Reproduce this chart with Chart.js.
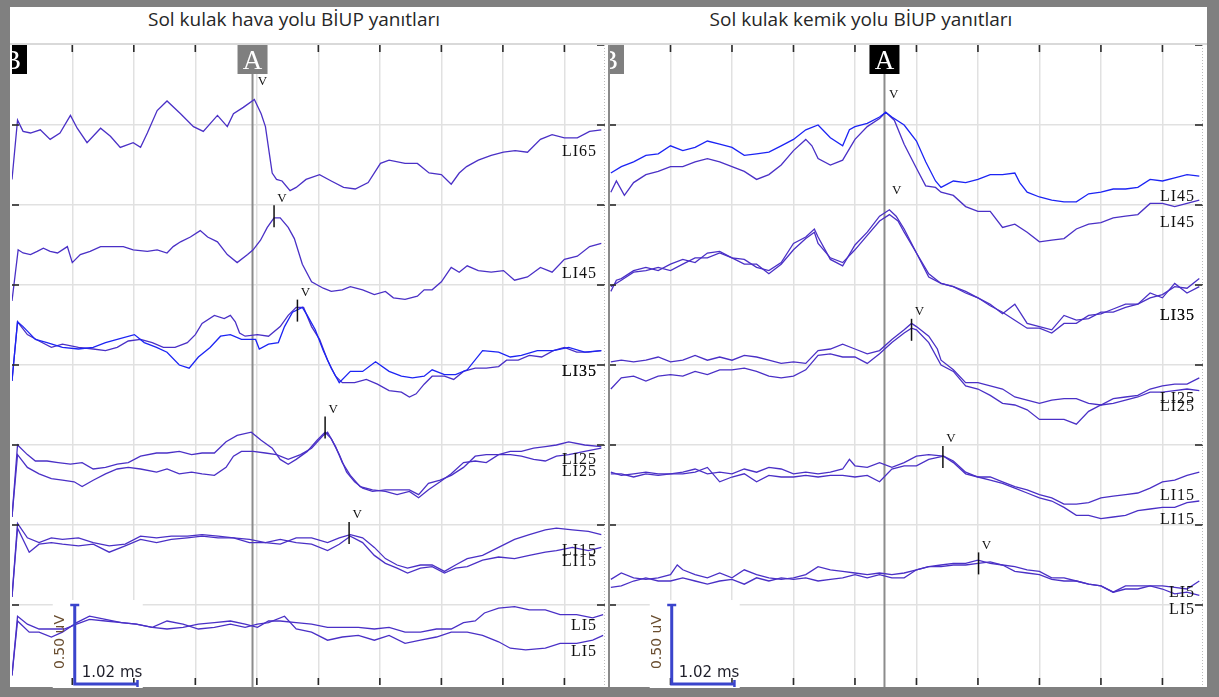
<!DOCTYPE html>
<html><head><meta charset="utf-8">
<script src="https://cdn.jsdelivr.net/npm/chart.js@4.4.1/dist/chart.umd.min.js"></script>
<style>
html,body{margin:0;padding:0;background:#808080;width:1219px;height:697px;overflow:hidden;}
#frame{position:absolute;left:10px;top:7px;width:1197px;height:680px;background:#fff;}
#titlebar{position:absolute;left:10px;top:43px;width:1197px;height:2px;background:#d9d9d9;}
.title{position:absolute;top:6px;line-height:26px;font-family:'Open Sans',sans-serif;font-size:19px;color:#262626;white-space:nowrap;transform:translateX(-50%);}
#sep{position:absolute;left:608px;top:45px;width:2px;height:642px;background:#8a8a8a;}
canvas{position:absolute;}
</style></head>
<body>
<div id="frame"></div>
<div id="titlebar"></div>
<div class="title" id="t1" style="left:294px"></div>
<div class="title" id="t2" style="left:861px"></div>
<canvas id="c1" width="598" height="643" style="left:10px;top:45px"></canvas>
<canvas id="c2" width="600" height="643" style="left:608px;top:45px"></canvas>
<div id="sep"></div>
<script>
// ---------- texts ----------
const airTitle = 'Sol kulak hava yolu BİUP yanıtları';
const boneTitle = 'Sol kulak kemik yolu BİUP yanıtları';
const barUvText = '0.50 uV';
const barMsText = '1.02 ms';

// ---------- axis grid (ms / µV) ----------
const gridMs = [1, 2, 3, 4, 5, 6, 7, 8, 9];
const gridUv = [0.5, 1.0, 1.5, 2.0, 2.5, 3.0, 3.5];
const edgeUv = [0.5, 1.0, 1.5, 2.0, 2.5, 3.0, 3.5, 4.0];

// ---------- LEFT: air conduction traces [ms, µV] ----------
const airLI65 = [[0.02,3.16],[0.11,3.53],[0.20,3.46],[0.32,3.45],[0.48,3.47],[0.64,3.41],[0.80,3.45],[0.97,3.56],[1.08,3.48],[1.24,3.39],[1.46,3.48],[1.62,3.43],[1.78,3.36],[1.99,3.39],[2.11,3.36],[2.22,3.45],[2.38,3.59],[2.54,3.65],[2.76,3.57],[2.97,3.49],[3.13,3.46],[3.36,3.56],[3.52,3.49],[3.62,3.57],[3.78,3.61],[3.96,3.66],[4.07,3.57],[4.14,3.49],[4.20,3.33],[4.25,3.20],[4.32,3.16],[4.41,3.15],[4.54,3.09],[4.64,3.11],[4.80,3.16],[5.02,3.19],[5.21,3.15],[5.41,3.11],[5.60,3.10],[5.81,3.14],[6.01,3.26],[6.15,3.28],[6.41,3.26],[6.61,3.26],[6.80,3.20],[7.00,3.19],[7.16,3.13],[7.29,3.20],[7.41,3.24],[7.60,3.28],[7.81,3.31],[8.01,3.33],[8.20,3.34],[8.40,3.33],[8.61,3.41],[8.80,3.44],[9.00,3.42],[9.21,3.42],[9.41,3.46],[9.60,3.47]];
const airLI45 = [[0.02,2.40],[0.12,2.72],[0.20,2.70],[0.32,2.69],[0.43,2.71],[0.53,2.73],[0.64,2.71],[0.76,2.70],[0.92,2.74],[1.00,2.64],[1.13,2.69],[1.29,2.71],[1.46,2.74],[1.67,2.74],[1.83,2.74],[1.99,2.72],[2.22,2.71],[2.38,2.72],[2.54,2.70],[2.64,2.74],[2.76,2.77],[2.92,2.80],[3.08,2.84],[3.20,2.80],[3.36,2.77],[3.52,2.69],[3.68,2.64],[3.85,2.69],[3.94,2.72],[4.06,2.78],[4.17,2.86],[4.28,2.92],[4.38,2.92],[4.51,2.86],[4.61,2.79],[4.74,2.63],[4.89,2.52],[5.08,2.48],[5.21,2.46],[5.39,2.47],[5.52,2.49],[5.72,2.47],[5.91,2.44],[6.09,2.46],[6.22,2.42],[6.41,2.41],[6.61,2.43],[6.72,2.47],[6.85,2.47],[7.00,2.52],[7.16,2.61],[7.29,2.58],[7.42,2.62],[7.60,2.59],[7.81,2.58],[8.01,2.59],[8.19,2.53],[8.40,2.55],[8.61,2.61],[8.80,2.58],[9.00,2.66],[9.21,2.68],[9.41,2.74],[9.60,2.76]];
const airLI35a = [[0.02,1.90],[0.11,2.27],[0.20,2.24],[0.40,2.16],[0.59,2.14],[0.84,2.11],[1.10,2.10],[1.34,2.11],[1.54,2.14],[1.73,2.16],[2.01,2.19],[2.17,2.14],[2.37,2.11],[2.54,2.08],[2.74,2.00],[2.90,1.98],[3.05,2.05],[3.24,2.11],[3.41,2.18],[3.57,2.19],[3.75,2.16],[3.98,2.16],[4.04,2.10],[4.19,2.13],[4.35,2.14],[4.45,2.24],[4.58,2.33],[4.74,2.36],[4.82,2.31],[4.95,2.22],[5.08,2.09],[5.21,1.98],[5.34,1.89],[5.52,1.96],[5.72,1.96],[5.93,2.02],[6.15,1.96],[6.35,1.93],[6.53,1.92],[6.72,1.93],[6.85,1.97],[7.05,1.94],[7.23,1.94],[7.42,1.97],[7.67,2.09],[7.93,2.08],[8.12,2.05],[8.30,2.06],[8.56,2.09],[8.82,2.09],[9.07,2.11],[9.33,2.08],[9.60,2.09]];
const airLI35b = [[0.02,1.90],[0.11,2.27],[0.27,2.19],[0.46,2.15],[0.66,2.11],[0.84,2.13],[1.10,2.11],[1.34,2.10],[1.54,2.09],[1.73,2.11],[1.91,2.15],[2.11,2.16],[2.30,2.14],[2.48,2.11],[2.67,2.11],[2.87,2.14],[3.00,2.19],[3.11,2.26],[3.31,2.31],[3.47,2.29],[3.57,2.31],[3.65,2.27],[3.72,2.20],[3.81,2.18],[4.01,2.19],[4.19,2.18],[4.38,2.24],[4.51,2.31],[4.64,2.36],[4.76,2.36],[4.89,2.24],[5.02,2.16],[5.15,2.03],[5.28,1.93],[5.39,1.89],[5.59,1.89],[5.78,1.91],[5.96,1.88],[6.15,1.84],[6.35,1.83],[6.48,1.80],[6.59,1.82],[6.72,1.88],[6.85,1.93],[7.05,1.93],[7.20,1.91],[7.36,1.96],[7.55,1.98],[7.73,1.98],[7.93,1.99],[8.06,2.03],[8.25,2.03],[8.43,2.06],[8.63,2.05],[8.82,2.09],[9.00,2.11],[9.20,2.08],[9.39,2.08],[9.60,2.09]];
const airLI25a = [[0.02,1.05],[0.11,1.50],[0.27,1.44],[0.40,1.40],[0.59,1.40],[0.77,1.39],[0.97,1.38],[1.16,1.39],[1.34,1.35],[1.54,1.36],[1.73,1.38],[1.91,1.39],[2.11,1.43],[2.37,1.45],[2.54,1.45],[2.74,1.46],[2.94,1.44],[3.11,1.45],[3.31,1.45],[3.50,1.52],[3.68,1.56],[3.91,1.58],[4.07,1.53],[4.25,1.48],[4.38,1.41],[4.51,1.38],[4.64,1.41],[4.82,1.46],[4.98,1.53],[5.11,1.58],[5.21,1.54],[5.34,1.44],[5.46,1.33],[5.59,1.27],[5.72,1.23],[5.88,1.21],[6.09,1.22],[6.28,1.22],[6.48,1.22],[6.63,1.19],[6.79,1.26],[6.98,1.28],[7.16,1.31],[7.36,1.36],[7.55,1.43],[7.73,1.44],[7.93,1.44],[8.12,1.46],[8.30,1.46],[8.50,1.48],[8.69,1.49],[8.87,1.50],[9.07,1.52],[9.33,1.50],[9.60,1.49]];
const airLI25b = [[0.02,1.05],[0.11,1.44],[0.27,1.36],[0.46,1.32],[0.66,1.29],[0.84,1.28],[1.03,1.27],[1.16,1.24],[1.34,1.28],[1.54,1.32],[1.73,1.35],[1.91,1.36],[2.11,1.35],[2.37,1.33],[2.54,1.35],[2.74,1.32],[2.94,1.33],[3.11,1.32],[3.31,1.31],[3.50,1.36],[3.62,1.43],[3.75,1.46],[3.94,1.46],[4.14,1.45],[4.32,1.44],[4.51,1.41],[4.71,1.44],[4.89,1.48],[5.08,1.56],[5.15,1.58],[5.28,1.49],[5.39,1.39],[5.52,1.31],[5.68,1.24],[5.88,1.22],[6.09,1.21],[6.28,1.19],[6.48,1.21],[6.63,1.17],[6.79,1.22],[6.98,1.27],[7.16,1.32],[7.36,1.39],[7.55,1.40],[7.73,1.39],[7.93,1.44],[8.12,1.44],[8.30,1.43],[8.50,1.41],[8.69,1.40],[8.87,1.43],[9.07,1.44],[9.33,1.46],[9.60,1.48]];
const airLI15a = [[0.02,0.55],[0.11,1.01],[0.27,0.92],[0.46,0.89],[0.66,0.92],[0.84,0.91],[1.10,0.92],[1.34,0.89],[1.60,0.87],[1.86,0.88],[2.11,0.93],[2.37,0.92],[2.61,0.93],[2.87,0.93],[3.11,0.94],[3.37,0.93],[3.62,0.92],[3.88,0.91],[4.14,0.89],[4.38,0.88],[4.64,0.92],[4.89,0.92],[5.15,0.89],[5.34,0.92],[5.52,0.94],[5.72,0.92],[5.91,0.86],[6.09,0.79],[6.28,0.75],[6.45,0.73],[6.66,0.75],[6.85,0.75],[7.05,0.71],[7.23,0.75],[7.42,0.79],[7.67,0.81],[7.93,0.86],[8.19,0.91],[8.43,0.94],[8.69,0.97],[8.87,0.98],[9.13,0.97],[9.39,0.96],[9.60,0.94]];
const airLI15b = [[0.02,0.55],[0.11,0.98],[0.30,0.83],[0.46,0.88],[0.66,0.89],[0.84,0.88],[1.10,0.87],[1.34,0.88],[1.60,0.83],[1.86,0.87],[2.11,0.91],[2.37,0.89],[2.61,0.91],[2.87,0.92],[3.11,0.93],[3.37,0.92],[3.62,0.92],[3.88,0.89],[4.14,0.89],[4.38,0.91],[4.64,0.89],[4.89,0.88],[5.15,0.84],[5.34,0.88],[5.52,0.93],[5.72,0.89],[5.91,0.81],[6.09,0.76],[6.28,0.73],[6.45,0.70],[6.66,0.73],[6.85,0.74],[7.05,0.70],[7.23,0.73],[7.42,0.74],[7.67,0.78],[7.93,0.80],[8.19,0.79],[8.43,0.81],[8.69,0.83],[8.87,0.84],[9.13,0.86],[9.39,0.84],[9.60,0.86]];
const airLI5a = [[0.02,0.06],[0.11,0.43],[0.27,0.38],[0.46,0.35],[0.66,0.35],[0.87,0.35],[1.07,0.38],[1.28,0.41],[1.54,0.40],[1.80,0.39],[2.04,0.38],[2.30,0.36],[2.54,0.35],[2.80,0.36],[3.05,0.38],[3.31,0.39],[3.57,0.40],[3.81,0.38],[4.01,0.36],[4.19,0.40],[4.38,0.40],[4.64,0.39],[4.89,0.38],[5.15,0.36],[5.39,0.36],[5.65,0.36],[5.91,0.35],[6.15,0.36],[6.41,0.33],[6.66,0.33],[6.92,0.35],[7.16,0.35],[7.36,0.39],[7.55,0.40],[7.70,0.45],[7.93,0.48],[8.19,0.49],[8.43,0.47],[8.69,0.47],[8.93,0.44],[9.20,0.44],[9.46,0.42],[9.63,0.44]];
const airLI5b = [[0.02,0.06],[0.11,0.40],[0.30,0.33],[0.46,0.33],[0.66,0.30],[0.84,0.33],[1.07,0.39],[1.28,0.43],[1.54,0.41],[1.80,0.39],[2.04,0.38],[2.30,0.36],[2.54,0.40],[2.80,0.38],[3.05,0.35],[3.31,0.36],[3.57,0.38],[3.81,0.36],[4.01,0.38],[4.19,0.39],[4.45,0.43],[4.64,0.35],[4.89,0.33],[5.15,0.28],[5.39,0.30],[5.65,0.31],[5.91,0.28],[6.15,0.31],[6.41,0.26],[6.66,0.28],[6.92,0.30],[7.16,0.33],[7.42,0.33],[7.67,0.31],[7.93,0.27],[8.12,0.23],[8.37,0.22],[8.69,0.23],[8.93,0.26],[9.20,0.26],[9.46,0.28],[9.63,0.31]];

const airTraces = [airLI65, airLI45, airLI35a, airLI35b, airLI25a, airLI25b, airLI15a, airLI15b, airLI5a, airLI5b];
const airLabels = ['LI65', 'LI45', 'LI35', 'LI35', 'LI25', 'LI25', 'LI15', 'LI15', 'LI5', 'LI5'];
const airLabelLevels = [3.33, 2.57, 1.96, 1.955, 1.41, 1.33, 0.84, 0.77, 0.37, 0.21];
const airPeakLatency = [3.96, 4.28, 4.66, 5.11, 5.50];
const airPeakAmp = [3.66, 2.93, 2.34, 1.61, 0.95];
const airCursorA = 3.93, airCursorB = 0.02;

// ---------- RIGHT: bone conduction traces [ms, µV] ----------
const boneLI45a = [[0.03,3.20],[0.20,3.24],[0.40,3.27],[0.60,3.31],[0.80,3.32],[1.00,3.37],[1.20,3.34],[1.40,3.36],[1.60,3.40],[1.80,3.38],[2.00,3.36],[2.20,3.31],[2.40,3.32],[2.60,3.33],[2.80,3.37],[3.00,3.41],[3.20,3.47],[3.40,3.50],[3.60,3.42],[3.80,3.37],[3.91,3.47],[4.00,3.49],[4.20,3.51],[4.40,3.55],[4.50,3.58],[4.60,3.55],[4.80,3.50],[5.00,3.40],[5.15,3.27],[5.31,3.15],[5.40,3.11],[5.60,3.15],[5.80,3.14],[6.00,3.16],[6.20,3.19],[6.40,3.19],[6.60,3.20],[6.68,3.14],[6.80,3.08],[7.00,3.05],[7.20,3.03],[7.40,3.02],[7.60,3.02],[7.80,3.07],[8.00,3.08],[8.20,3.10],[8.40,3.10],[8.60,3.11],[8.80,3.16],[9.00,3.15],[9.20,3.17],[9.40,3.19],[9.60,3.18]];
const boneLI45b = [[0.03,3.08],[0.12,3.15],[0.25,3.06],[0.40,3.14],[0.60,3.19],[0.80,3.21],[1.00,3.24],[1.20,3.24],[1.40,3.27],[1.60,3.29],[1.80,3.27],[2.00,3.24],[2.20,3.21],[2.40,3.16],[2.60,3.19],[2.80,3.25],[3.00,3.34],[3.20,3.41],[3.30,3.37],[3.40,3.29],[3.60,3.25],[3.80,3.28],[4.00,3.41],[4.20,3.49],[4.40,3.54],[4.50,3.58],[4.64,3.53],[4.80,3.38],[5.00,3.23],[5.15,3.12],[5.31,3.11],[5.40,3.08],[5.60,3.06],[5.80,2.99],[6.00,2.96],[6.20,2.96],[6.40,2.86],[6.60,2.88],[6.80,2.83],[7.00,2.77],[7.20,2.78],[7.40,2.79],[7.60,2.85],[7.80,2.88],[8.00,2.89],[8.20,2.92],[8.40,2.93],[8.60,2.94],[8.80,3.01],[9.00,3.01],[9.20,2.99],[9.40,3.01],[9.60,3.03]];
const boneLI35a = [[0.03,2.46],[0.12,2.53],[0.20,2.54],[0.40,2.59],[0.60,2.61],[0.80,2.59],[1.00,2.63],[1.20,2.66],[1.40,2.64],[1.60,2.70],[1.80,2.71],[2.00,2.67],[2.20,2.66],[2.40,2.61],[2.60,2.59],[2.80,2.64],[3.00,2.76],[3.20,2.80],[3.34,2.85],[3.40,2.80],[3.60,2.66],[3.80,2.62],[4.00,2.75],[4.20,2.83],[4.40,2.93],[4.56,2.97],[4.67,2.93],[4.80,2.85],[5.00,2.70],[5.20,2.57],[5.40,2.51],[5.60,2.49],[5.80,2.46],[6.00,2.42],[6.20,2.38],[6.40,2.32],[6.60,2.38],[6.80,2.26],[7.00,2.24],[7.20,2.22],[7.40,2.31],[7.60,2.28],[7.80,2.29],[8.00,2.33],[8.20,2.33],[8.40,2.36],[8.60,2.38],[8.80,2.42],[9.00,2.44],[9.20,2.49],[9.40,2.48],[9.60,2.54]];
const boneLI35b = [[0.03,2.49],[0.20,2.53],[0.40,2.58],[0.60,2.59],[0.80,2.61],[1.00,2.59],[1.20,2.63],[1.40,2.67],[1.60,2.67],[1.80,2.70],[2.00,2.67],[2.20,2.63],[2.40,2.63],[2.60,2.57],[2.80,2.63],[3.00,2.72],[3.20,2.79],[3.34,2.83],[3.40,2.76],[3.60,2.67],[3.80,2.64],[4.00,2.72],[4.20,2.81],[4.40,2.90],[4.56,2.94],[4.70,2.90],[4.80,2.83],[5.00,2.70],[5.20,2.55],[5.40,2.51],[5.60,2.49],[5.80,2.45],[6.00,2.42],[6.20,2.37],[6.40,2.33],[6.60,2.28],[6.80,2.23],[7.00,2.23],[7.20,2.20],[7.40,2.26],[7.60,2.26],[7.80,2.31],[8.00,2.32],[8.20,2.35],[8.40,2.38],[8.60,2.38],[8.80,2.45],[9.00,2.42],[9.20,2.51],[9.40,2.45],[9.60,2.49]];
const boneLI25a = [[0.03,2.02],[0.20,2.03],[0.40,2.02],[0.60,2.03],[0.80,2.05],[1.00,2.02],[1.20,2.03],[1.40,2.06],[1.60,2.03],[1.80,2.05],[2.00,2.03],[2.20,2.06],[2.40,2.05],[2.60,2.03],[2.80,2.01],[3.00,2.02],[3.20,2.01],[3.40,2.09],[3.60,2.10],[3.80,2.13],[4.00,2.10],[4.20,2.07],[4.40,2.09],[4.60,2.16],[4.80,2.22],[4.92,2.26],[5.00,2.24],[5.20,2.18],[5.34,2.10],[5.40,2.03],[5.60,1.97],[5.80,1.89],[6.00,1.89],[6.20,1.87],[6.40,1.85],[6.60,1.80],[6.80,1.78],[7.00,1.76],[7.20,1.78],[7.40,1.79],[7.60,1.79],[7.80,1.76],[8.00,1.75],[8.20,1.79],[8.40,1.80],[8.60,1.81],[8.80,1.85],[9.00,1.87],[9.20,1.88],[9.40,1.88],[9.60,1.92]];
const boneLI25b = [[0.03,1.85],[0.20,1.92],[0.40,1.93],[0.60,1.90],[0.80,1.93],[1.00,1.94],[1.20,1.93],[1.40,1.96],[1.60,1.94],[1.80,1.97],[2.00,1.97],[2.20,1.98],[2.40,1.96],[2.60,1.93],[2.80,1.92],[3.00,1.93],[3.20,1.97],[3.40,2.06],[3.60,2.07],[3.80,2.05],[4.00,2.05],[4.20,2.01],[4.40,2.07],[4.60,2.14],[4.80,2.20],[4.92,2.23],[5.00,2.22],[5.20,2.14],[5.40,2.00],[5.60,1.96],[5.80,1.87],[6.00,1.85],[6.20,1.81],[6.40,1.76],[6.60,1.75],[6.80,1.72],[7.00,1.66],[7.20,1.66],[7.40,1.66],[7.60,1.63],[7.80,1.71],[8.00,1.75],[8.20,1.76],[8.40,1.78],[8.60,1.80],[8.80,1.83],[9.00,1.83],[9.20,1.84],[9.40,1.85],[9.60,1.84]];
const boneLI15a = [[0.03,1.33],[0.20,1.31],[0.40,1.32],[0.60,1.33],[0.80,1.32],[1.00,1.32],[1.20,1.33],[1.40,1.35],[1.60,1.32],[1.80,1.33],[2.00,1.32],[2.20,1.35],[2.40,1.33],[2.60,1.36],[2.80,1.35],[3.00,1.32],[3.20,1.33],[3.40,1.32],[3.60,1.33],[3.80,1.35],[3.91,1.41],[4.00,1.37],[4.20,1.36],[4.40,1.39],[4.60,1.36],[4.80,1.39],[5.00,1.43],[5.20,1.44],[5.44,1.43],[5.60,1.40],[5.80,1.33],[6.00,1.30],[6.20,1.30],[6.40,1.27],[6.60,1.24],[6.80,1.22],[7.00,1.19],[7.20,1.17],[7.40,1.13],[7.60,1.13],[7.80,1.14],[8.00,1.17],[8.20,1.18],[8.40,1.19],[8.60,1.20],[8.80,1.23],[9.00,1.27],[9.20,1.28],[9.40,1.31],[9.60,1.33]];
const boneLI15b = [[0.03,1.32],[0.20,1.32],[0.40,1.30],[0.60,1.32],[0.80,1.31],[1.00,1.32],[1.20,1.32],[1.40,1.33],[1.60,1.36],[1.80,1.27],[2.00,1.30],[2.20,1.32],[2.40,1.27],[2.60,1.31],[2.80,1.30],[3.00,1.30],[3.20,1.31],[3.40,1.30],[3.60,1.31],[3.80,1.31],[4.00,1.30],[4.20,1.31],[4.40,1.27],[4.60,1.35],[4.80,1.37],[5.00,1.37],[5.20,1.41],[5.44,1.43],[5.60,1.39],[5.80,1.32],[6.00,1.30],[6.20,1.28],[6.40,1.26],[6.60,1.23],[6.80,1.20],[7.00,1.17],[7.20,1.15],[7.40,1.11],[7.60,1.06],[7.80,1.06],[8.00,1.04],[8.20,1.05],[8.40,1.06],[8.60,1.09],[8.80,1.10],[9.00,1.11],[9.20,1.11],[9.40,1.14],[9.60,1.15]];
const boneLI5a = [[0.03,0.66],[0.20,0.70],[0.40,0.67],[0.60,0.66],[0.80,0.67],[1.00,0.69],[1.11,0.75],[1.20,0.72],[1.40,0.69],[1.60,0.67],[1.80,0.70],[2.00,0.67],[2.20,0.72],[2.40,0.69],[2.60,0.67],[2.80,0.66],[3.00,0.67],[3.20,0.69],[3.40,0.74],[3.60,0.72],[3.80,0.71],[4.00,0.70],[4.20,0.69],[4.40,0.70],[4.60,0.69],[4.80,0.70],[5.00,0.72],[5.20,0.74],[5.40,0.75],[5.60,0.76],[5.80,0.76],[6.00,0.78],[6.20,0.76],[6.40,0.75],[6.60,0.74],[6.80,0.72],[7.00,0.71],[7.20,0.67],[7.40,0.67],[7.60,0.65],[7.80,0.63],[8.00,0.62],[8.20,0.58],[8.40,0.62],[8.60,0.62],[8.80,0.62],[9.00,0.62],[9.20,0.61],[9.40,0.60],[9.60,0.65]];
const boneLI5b = [[0.03,0.61],[0.20,0.62],[0.40,0.65],[0.60,0.67],[0.80,0.65],[1.00,0.65],[1.20,0.67],[1.40,0.65],[1.60,0.63],[1.80,0.65],[2.00,0.66],[2.20,0.63],[2.40,0.67],[2.60,0.65],[2.80,0.67],[3.00,0.66],[3.20,0.67],[3.40,0.65],[3.60,0.66],[3.80,0.67],[4.00,0.69],[4.20,0.67],[4.40,0.69],[4.60,0.67],[4.80,0.67],[5.00,0.72],[5.20,0.74],[5.40,0.74],[5.60,0.75],[5.80,0.75],[6.00,0.76],[6.20,0.77],[6.40,0.75],[6.60,0.71],[6.80,0.70],[7.00,0.69],[7.20,0.66],[7.40,0.65],[7.60,0.65],[7.80,0.63],[8.00,0.62],[8.20,0.58],[8.40,0.60],[8.60,0.60],[8.80,0.62],[9.00,0.60],[9.20,0.57],[9.40,0.58],[9.60,0.56]];

const boneTraces = [boneLI45a, boneLI45b, boneLI35a, boneLI35b, boneLI25a, boneLI25b, boneLI15a, boneLI15b, boneLI5a, boneLI5b];
const boneLabels = ['LI45', 'LI45', 'LI35', 'LI35', 'LI25', 'LI25', 'LI15', 'LI15', 'LI5', 'LI5'];
const boneLabelLevels = [3.05, 2.89, 2.31, 2.305, 1.79, 1.74, 1.18, 1.03, 0.575, 0.47];
const bonePeakLatency = [4.50, 4.55, 4.92, 5.43, 6.01];
const bonePeakAmp = [3.58, 2.98, 2.22, 1.425, 0.76];
const boneCursorA = 4.48, boneCursorB = 0.0;

// scale bar values
const barUv = 0.50, barMs = 1.02;

// ---------- styles ----------
const PURPLE = '#4a30c6', BLUE = '#1c24f4', GRID = '#e1e1e1';
const airColors = [PURPLE, PURPLE, BLUE, PURPLE, PURPLE, PURPLE, PURPLE, PURPLE, PURPLE, PURPLE];
const boneColors = [BLUE, PURPLE, PURPLE, PURPLE, PURPLE, PURPLE, PURPLE, PURPLE, PURPLE, PURPLE];

document.getElementById('t1').textContent = airTitle;
document.getElementById('t2').textContent = boneTitle;

function line(ctx, x1, y1, x2, y2) { ctx.beginPath(); ctx.moveTo(x1, y1); ctx.lineTo(x2, y2); ctx.stroke(); }

function overlay(o) {
  return {
    id: 'abrOverlay',
    beforeDatasetsDraw(chart) {
      const { ctx, chartArea: a, scales: { x, y } } = chart;
      ctx.save();
      const bx = x.getPixelForValue(o.barT);
      const bTop = y.getPixelForValue(barUv);
      ctx.fillStyle = '#ffffff';
      ctx.fillRect(bx - 22, bTop - 5, 90, a.bottom - bTop + 8);
      const ax = x.getPixelForValue(o.cursorA);
      ctx.strokeStyle = '#8c8c8c'; ctx.lineWidth = 2;
      line(ctx, ax, a.top + 29, ax, a.bottom + 2);
      ctx.restore();
    },
    afterDatasetsDraw(chart) {
      const { ctx, chartArea: a, scales: { x, y } } = chart;
      ctx.save();
      // edge tick marks
      ctx.strokeStyle = '#2a2a2a'; ctx.lineWidth = 1.6;
      gridMs.forEach(v => {
        const px = x.getPixelForValue(v);
        line(ctx, px, a.top, px, a.top + 7);
        line(ctx, px, a.bottom - 7, px, a.bottom);
      });
      edgeUv.forEach(v => {
        const py = y.getPixelForValue(v);
        line(ctx, a.left, py, a.left + 7, py);
        line(ctx, a.right - 8, py, a.right, py);
      });
      // dotted right border
      ctx.setLineDash([1, 2]); ctx.strokeStyle = '#bdbdbd'; ctx.lineWidth = 1;
      line(ctx, a.right - 0.5, a.top, a.right - 0.5, a.bottom);
      ctx.setLineDash([]);
      // wave V markers
      o.peakT.forEach((t, i) => {
        const px = x.getPixelForValue(t), py = y.getPixelForValue(o.peakV[i]);
        if (Math.abs(t - o.cursorA) > 0.1) {
          ctx.strokeStyle = '#111'; ctx.lineWidth = 1.5;
          line(ctx, px, py - 11, px, py + 11);
        }
        ctx.fillStyle = '#111'; ctx.font = '13px "Liberation Serif"';
        ctx.textAlign = 'center'; ctx.textBaseline = 'middle';
        ctx.fillText('V', px + 8, py - 18);
      });
      // trace labels
      ctx.fillStyle = '#111';
      ctx.font = '16px "Liberation Serif"'; ctx.textAlign = 'right'; ctx.textBaseline = 'middle';
      ctx.letterSpacing = '1px';
      o.labels.forEach((s, i) => ctx.fillText(s, x.getPixelForValue(o.labelT), y.getPixelForValue(o.labelLevels[i])));
      ctx.letterSpacing = '0px';
      // cursor boxes
      ctx.save();
      ctx.beginPath(); ctx.rect(a.left, a.top, a.right - a.left, a.bottom - a.top); ctx.clip();
      [['A', o.cursorA, o.aFill], ['B', o.cursorB, o.bFill]].forEach(([ch, t, fill]) => {
        const cx = x.getPixelForValue(t);
        ctx.fillStyle = fill; ctx.fillRect(cx - 15, a.top, 30, 29);
        ctx.fillStyle = '#fff'; ctx.font = '27px "Liberation Serif"';
        ctx.textAlign = 'center'; ctx.textBaseline = 'alphabetic';
        ctx.fillText(ch, cx, a.top + 24);
      });
      ctx.restore();
      // scale bar
      const bx = x.getPixelForValue(o.barT), by0 = y.getPixelForValue(0), by1 = y.getPixelForValue(barUv);
      const bx1 = x.getPixelForValue(o.barT + barMs);
      ctx.strokeStyle = '#3a44cc'; ctx.lineWidth = 3;
      ctx.beginPath(); ctx.moveTo(bx, by1); ctx.lineTo(bx, by0 - 1); ctx.lineTo(bx1, by0 - 1); ctx.stroke();
      ctx.lineWidth = 2.5;
      line(ctx, bx - 4.5, by1, bx + 4.5, by1);
      line(ctx, bx1, by0 - 5, bx1, by0 + 2);
      ctx.fillStyle = '#1f1f2a'; ctx.font = '15px "DejaVu Sans"';
      ctx.textAlign = 'left'; ctx.textBaseline = 'alphabetic';
      ctx.fillText(barMsText, bx + 7, by0 - 8.5);
      ctx.save();
      ctx.translate(bx - 14, by0 - 43); ctx.rotate(-Math.PI / 2);
      ctx.fillStyle = '#6a4e30'; ctx.font = '14px "DejaVu Sans"';
      ctx.textAlign = 'center'; ctx.textBaseline = 'middle';
      ctx.fillText(barUvText, 0, 0);
      ctx.restore();
      ctx.restore();
    }
  };
}

function build(id, traces, colors, o) {
  return new Chart(document.getElementById(id), {
    type: 'line',
    data: {
      datasets: traces.map((tr, i) => ({
        data: tr.map(p => ({ x: p[0], y: p[1] })),
        borderColor: colors[i], borderWidth: 1.3, pointRadius: 0, tension: 0, fill: false
      }))
    },
    options: {
      responsive: false, animation: false, devicePixelRatio: 1, events: [],
      layout: { padding: o.padding },
      plugins: { legend: { display: false }, tooltip: { enabled: false }, title: { display: false } },
      scales: {
        x: {
          type: 'linear', min: o.xMin, max: o.xMax,
          afterBuildTicks: s => { s.ticks = gridMs.map(v => ({ value: v })); },
          ticks: { display: false }, border: { display: false },
          grid: { color: GRID, lineWidth: 1.5, drawTicks: false }
        },
        y: {
          type: 'linear', min: 0, max: 4,
          afterBuildTicks: s => { s.ticks = gridUv.map(v => ({ value: v })); },
          ticks: { display: false }, border: { display: false },
          grid: { color: GRID, lineWidth: 1.5, drawTicks: false }
        }
      }
    },
    plugins: [overlay(o)]
  });
}

build('c1', airTraces, airColors, {
  padding: { left: 2, right: 3, top: 0, bottom: 3 }, xMin: 0.02, xMax: 9.66,
  cursorA: airCursorA, cursorB: airCursorB, aFill: '#7f7f7f', bFill: '#000000',
  peakT: airPeakLatency, peakV: airPeakAmp,
  labels: airLabels, labelLevels: airLabelLevels, labelT: 9.53, barT: 1.04
});
build('c2', boneTraces, boneColors, {
  padding: { left: 1, right: 5, top: 0, bottom: 3 }, xMin: 0, xMax: 9.66,
  cursorA: boneCursorA, cursorB: boneCursorB, aFill: '#000000', bFill: '#7f7f7f',
  peakT: bonePeakLatency, peakV: bonePeakAmp,
  labels: boneLabels, labelLevels: boneLabelLevels, labelT: 9.53, barT: 1.02
});
</script>
</body></html>
